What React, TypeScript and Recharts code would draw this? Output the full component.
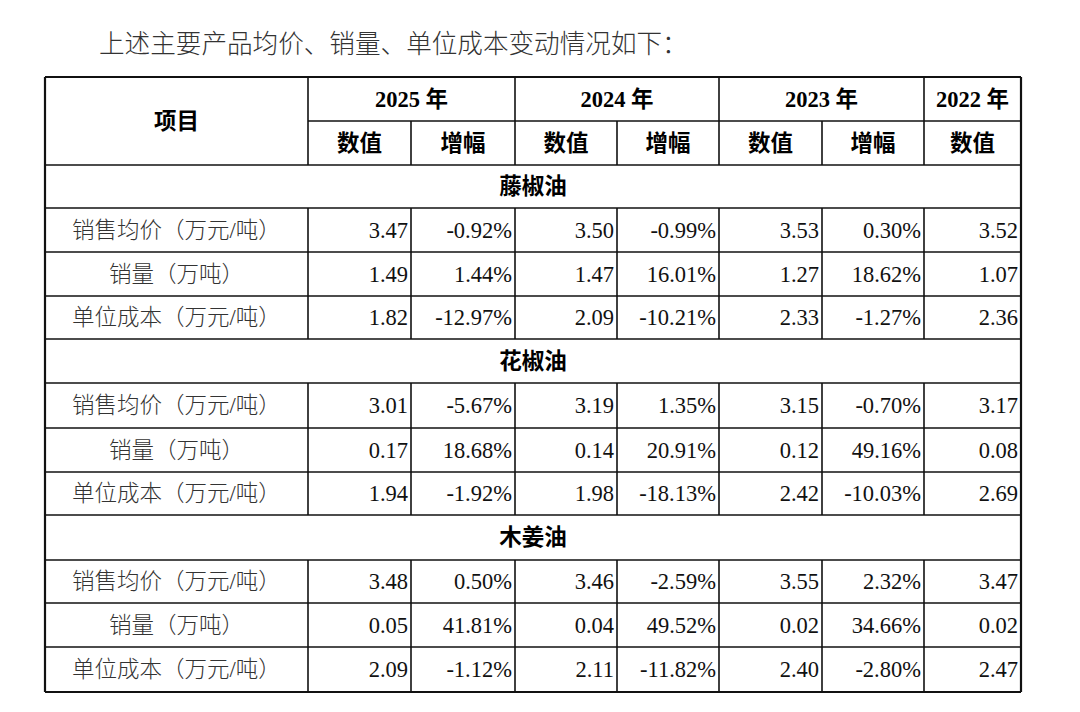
import { ScatterChart, Scatter, XAxis, YAxis, ReferenceLine } from "recharts";

// table content
const title = "上述主要产品均价、销量、单位成本变动情况如下：";
const years = ["2025 年", "2024 年", "2023 年", "2022 年"];
const subHeaders = ["数值", "增幅", "数值", "增幅", "数值", "增幅", "数值"];
const products = ["藤椒油", "花椒油", "木姜油"];
const metrics = ["销售均价（万元/吨）", "销量（万吨）", "单位成本（万元/吨）"];

// each row: 2025 value, 2025 change %, 2024 value, 2024 change %, 2023 value, 2023 change %, 2022 value
const tengjiaoPrice = [3.47, -0.92, 3.5, -0.99, 3.53, 0.3, 3.52];
const tengjiaoVolume = [1.49, 1.44, 1.47, 16.01, 1.27, 18.62, 1.07];
const tengjiaoCost = [1.82, -12.97, 2.09, -10.21, 2.33, -1.27, 2.36];
const huajiaoPrice = [3.01, -5.67, 3.19, 1.35, 3.15, -0.7, 3.17];
const huajiaoVolume = [0.17, 18.68, 0.14, 20.91, 0.12, 49.16, 0.08];
const huajiaoCost = [1.94, -1.92, 1.98, -18.13, 2.42, -10.03, 2.69];
const mujiangPrice = [3.48, 0.5, 3.46, -2.59, 3.55, 2.32, 3.47];
const mujiangVolume = [0.05, 41.81, 0.04, 49.52, 0.02, 34.66, 0.02];
const mujiangCost = [2.09, -1.12, 2.11, -11.82, 2.4, -2.8, 2.47];

const productRows = [
  [tengjiaoPrice, tengjiaoVolume, tengjiaoCost],
  [huajiaoPrice, huajiaoVolume, huajiaoCost],
  [mujiangPrice, mujiangVolume, mujiangCost],
];

// layout
const W = 1080;
const H = 712;
const colX = [45, 308, 411, 515, 617, 719, 822, 924, 1021];
const rowY = [77, 121, 165, 208, 252, 296, 339, 383, 428, 472, 515, 560, 603, 647, 692];
const sectionRows = [2, 6, 10]; // index into rowY of section row tops

const FONT = '"Liberation Serif", "Times New Roman", "Noto Sans CJK SC", serif';

type Cell = {
  x: number;
  y: number;
  text: string;
  anchor: "start" | "middle" | "end";
  bold?: boolean;
  size?: number;
  color?: string;
  weight?: number;
};

function fmt(v: number, i: number) {
  return i % 2 === 1 ? `${v.toFixed(2)}%` : v.toFixed(2);
}

function buildCells(): Cell[] {
  const cells: Cell[] = [];
  const mid = (a: number, b: number) => (a + b) / 2;
  cells.push({ x: 99, y: 44, text: title, anchor: "start", size: 25.6, color: "#333", weight: 300 });
  cells.push({ x: mid(colX[0], colX[1]), y: mid(rowY[0], rowY[2]), text: "项目", anchor: "middle", bold: true });
  const groupEdges = [[1, 3], [3, 5], [5, 7], [7, 8]];
  years.forEach((yr, i) => {
    const [a, b] = groupEdges[i];
    cells.push({ x: mid(colX[a], colX[b]), y: mid(rowY[0], rowY[1]), text: yr, anchor: "middle", bold: true });
  });
  subHeaders.forEach((s, i) => {
    cells.push({ x: mid(colX[i + 1], colX[i + 2]), y: mid(rowY[1], rowY[2]), text: s, anchor: "middle", bold: true });
  });
  products.forEach((p, pi) => {
    const top = sectionRows[pi];
    cells.push({ x: mid(colX[0], colX[8]), y: mid(rowY[top], rowY[top + 1]), text: p, anchor: "middle", bold: true });
    metrics.forEach((m, mi) => {
      const r = top + 1 + mi;
      const cy = mid(rowY[r], rowY[r + 1]);
      cells.push({ x: mid(colX[0], colX[1]), y: cy, text: m, anchor: "middle", color: "#333", weight: 300 });
      productRows[pi][mi].forEach((v, ci) => {
        cells.push({ x: colX[ci + 2] - 3, y: cy, text: fmt(v, ci), anchor: "end", color: "#111" });
      });
    });
  });
  return cells;
}

function buildLines() {
  const lines: { x1: number; y1: number; x2: number; y2: number; w: number }[] = [];
  const top = rowY[0];
  const bottom = rowY[rowY.length - 1];
  // horizontal rules
  rowY.forEach((y, i) => {
    const outer = i === 0 || i === rowY.length - 1;
    const x1 = i === 1 ? colX[1] : colX[0];
    lines.push({ x1, y1: y, x2: colX[8], y2: y, w: outer ? 2.2 : 1.6 });
  });
  // outer verticals
  lines.push({ x1: colX[0], y1: top, x2: colX[0], y2: bottom, w: 2.2 });
  lines.push({ x1: colX[8], y1: top, x2: colX[8], y2: bottom, w: 2.2 });
  // inner verticals, broken by the product section rows
  const dataSpans = [
    [rowY[3], rowY[6]],
    [rowY[7], rowY[10]],
    [rowY[11], rowY[14]],
  ];
  for (let c = 1; c < 8; c++) {
    const headerTop = c === 1 || c % 2 === 1 ? rowY[0] : rowY[1];
    lines.push({ x1: colX[c], y1: headerTop, x2: colX[c], y2: rowY[2], w: 1.6 });
    dataSpans.forEach(([a, b]) => lines.push({ x1: colX[c], y1: a, x2: colX[c], y2: b, w: 1.6 }));
  }
  return lines;
}

const TextMark = (props: any) => {
  const c: Cell = props.payload;
  return (
    <text
      x={props.cx}
      y={props.cy}
      textAnchor={c.anchor}
      dominantBaseline="central"
      fontFamily={FONT}
      fontSize={c.size ?? 22.5}
      fontWeight={c.bold ? 700 : c.weight ?? 400}
      fill={c.bold ? "#000" : c.color ?? "#111"}
    >
      {c.text}
    </text>
  );
};

export default function App() {
  const cells = buildCells();
  const lines = buildLines();
  return (
    <div style={{ position: "absolute", left: 0, top: 0, width: W, height: H, background: "#fff" }}>
      <ScatterChart width={W} height={H} margin={{ top: 0, right: 0, bottom: 0, left: 0 }}>
        <XAxis type="number" dataKey="x" domain={[0, W]} hide allowDataOverflow />
        <YAxis type="number" dataKey="y" domain={[0, H]} reversed hide allowDataOverflow />
        {lines.map((l, i) => (
          <ReferenceLine
            key={i}
            segment={[{ x: l.x1, y: l.y1 }, { x: l.x2, y: l.y2 }]}
            stroke="#111"
            strokeWidth={l.w}
            ifOverflow="visible"
          />
        ))}
        <Scatter data={cells} shape={TextMark} isAnimationActive={false} />
      </ScatterChart>
    </div>
  );
}
